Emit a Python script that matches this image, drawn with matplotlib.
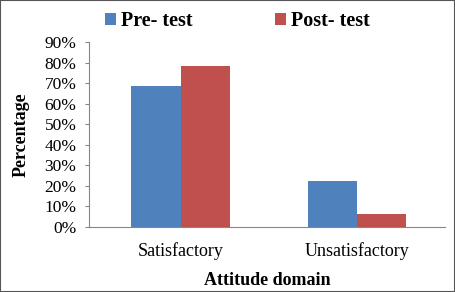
import matplotlib
matplotlib.use("Agg")
import matplotlib.pyplot as plt
import numpy as np
from matplotlib.patches import Rectangle

categories = ["Satisfactory", "Unsatisfactory"]
series_names = ["Pre- test", "Post- test"]
pre_test = [68.8, 22.3]
post_test = [78.3, 6.0]
colors = ["#4F81BD", "#C0504D"]

plt.rcParams['font.family'] = ['Liberation Serif', 'DejaVu Serif']

fig = plt.figure(figsize=(4.55, 2.92), dpi=100)
ax = fig.add_axes([89/455, 1-226.7/292, (445-89)/455, (226.7-42)/292])

x = np.arange(len(categories))
w = 0.28
b1 = ax.bar(x - w/2, pre_test, w, color=colors[0], label=series_names[0])
b2 = ax.bar(x + w/2, post_test, w, color=colors[1], label=series_names[1])

ax.set_xlim(-0.52, 1.5)
ax.set_ylim(0, 90)
ax.set_yticks(np.arange(0, 91, 10))
ax.set_yticklabels([f"{v}%" for v in range(0, 91, 10)], fontsize=12.5)
ax.set_xticks(x)
ax.set_xticklabels(categories, fontsize=13)
ax.tick_params(axis='x', length=0, pad=11)
ax.tick_params(axis='y', length=3, color='#868686', width=0.8, pad=6)
for s in ['top', 'right']:
    ax.spines[s].set_visible(False)
ax.spines['left'].set_color('#868686')
ax.spines['bottom'].set_color('#868686')
ax.set_ylabel("Percentage", fontsize=13, fontweight='bold', labelpad=11)
ax.set_xlabel("Attitude domain", fontsize=13, fontweight='bold', labelpad=9)

fig.legend(handles=[b1, b2], labels=series_names, loc='upper center',
           bbox_to_anchor=(0.522, 1.025), ncol=2, frameon=False,
           prop={'size': 14.5, 'weight': 'bold'}, handlelength=0.55,
           handleheight=0.55, handletextpad=0.25, columnspacing=4.1)

fig.patches.append(Rectangle((0, 0), 1, 1, transform=fig.transFigure,
                             fill=False, edgecolor='#555555', linewidth=1.5))
fig.savefig("out.png", dpi=100)
